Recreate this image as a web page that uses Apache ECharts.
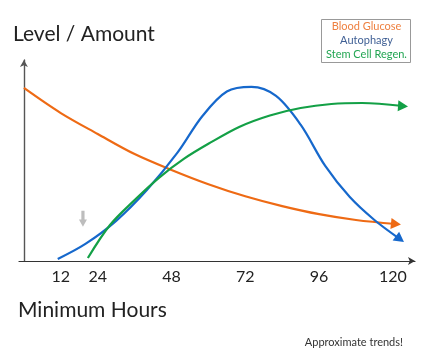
<!DOCTYPE html>
<html>
<head>
<meta charset="utf-8">
<script src="https://cdn.jsdelivr.net/npm/echarts@6/dist/echarts.min.js"></script>
<style>
html, body { margin: 0; padding: 0; background: #fff; }
#chart { width: 428px; height: 354px; }
</style>
</head>
<body>
<div id="chart"></div>
<script>
// hours on x, relative level on y (0-100)
var tickHours = [12, 24, 48, 72, 96, 120];
var seriesNames = ['Blood Glucose', 'Autophagy', 'Stem Cell Regen.'];
var seriesColors = ['#ee6a14', '#1668cc', '#13a046'];
var legendColors = ['#ee8040', '#3f5f94', '#22a552'];

var glucoseHours = [0, 12, 24, 36, 48, 60, 72, 84, 96, 108, 121];
var glucoseLevel = [86.1, 73.6, 63.2, 53.2, 45.3, 38.2, 32.2, 27.3, 23.3, 20.4, 18.4];

var autophagyHours = [11, 20, 30, 40, 50, 58, 66, 74, 82, 90, 98, 106, 114, 122.3];
var autophagyLevel = [1, 8.5, 20, 35.3, 54, 72, 84.3, 86.6, 82.1, 67.8, 47.3, 31.8, 20.4, 10.9];

var stemHours = [20.8, 28, 36, 44, 52, 60, 70, 80, 90, 100, 110, 123.3];
var stemLevel = [1.5, 17.9, 30.3, 41.5, 50.8, 58.3, 66.7, 72.4, 76.1, 78.1, 78.6, 77.1];

var arrowRotate = [-96, -126, -94];

function buildData(hours, levels, rot) {
    var out = [];
    for (var i = 0; i < hours.length; i++) {
        if (i == hours.length - 1) {
            out.push({
                value: [hours[i], levels[i]],
                symbol: 'triangle',
                symbolSize: [11, 10],
                symbolRotate: rot
            });
        } else {
            out.push([hours[i], levels[i]]);
        }
    }
    return out;
}

var allHours = [glucoseHours, autophagyHours, stemHours];
var allLevels = [glucoseLevel, autophagyLevel, stemLevel];

var series = [];
for (var s = 0; s < 3; s++) {
    series.push({
        name: seriesNames[s],
        type: 'line',
        smooth: 0.33,
        symbol: 'none',
        showSymbol: true,
        silent: true,
        color: seriesColors[s],
        itemStyle: { color: seriesColors[s] },
        lineStyle: { width: 2.2, color: seriesColors[s] },
        data: buildData(allHours[s], allLevels[s], arrowRotate[s])
    });
}
// small grey down arrow near 24h
series[1].markPoint = {
    silent: true,
    symbol: 'path://M3,0 L7,0 L7,7 L10,7 L5,13 L0,7 L3,7 Z',
    symbolSize: [8, 16],
    itemStyle: { color: '#bdbdbd' },
    label: { show: false },
    data: [{ coord: [19.2, 21] }]
};

var myChart = echarts.init(document.getElementById('chart'));
var option = {
    animation: false,
    backgroundColor: '#fff',
    title: [
        { text: 'Level / Amount', left: 8, top: 19, textStyle: { fontFamily: 'Lato', fontWeight: 'normal', fontSize: 21, color: '#222' } },
        { text: 'Minimum Hours', left: 13, top: 295, textStyle: { fontFamily: 'Lato', fontWeight: 'normal', fontSize: 21, color: '#222' } },
        { text: 'Approximate trends!', right: 20, top: 332, textStyle: { fontFamily: 'Lato', fontWeight: 'normal', fontSize: 11, color: '#333' } }
    ],
    graphic: [
        {
            type: 'rect',
            right: 17,
            top: 19,
            shape: { width: 89, height: 43 },
            style: { fill: '#fff', stroke: '#999', lineWidth: 1 }
        },
        {
            type: 'group',
            right: 17,
            top: 19,
            children: seriesNames.map(function (n, i) {
                return {
                    type: 'text',
                    x: 44.5,
                    y: 7.5 + i * 14,
                    style: {
                        text: n,
                        fill: legendColors[i],
                        font: '11px Lato',
                        align: 'center',
                        verticalAlign: 'middle'
                    }
                };
            }).concat([{ type: 'rect', shape: { width: 89, height: 43 }, style: { fill: 'none', stroke: 'none' } }])
        }
    ],
    grid: { left: 19, right: 13, top: 60, bottom: 93, containLabel: false },
    xAxis: {
        type: 'value',
        min: -1.6,
        max: 127.2,
        splitLine: { show: false },
        axisTick: { show: false },
        axisLine: { show: true, lineStyle: { color: '#333', width: 1.2 }, symbol: ['none', 'arrow'], symbolSize: [6, 7] },
        axisLabel: {
            customValues: tickHours,
            margin: 8,
            fontFamily: 'Lato',
            fontSize: 16,
            color: '#222'
        }
    },
    yAxis: {
        type: 'value',
        min: 0,
        max: 100,
        splitLine: { show: false },
        axisTick: { show: false },
        axisLabel: { show: false },
        axisLine: { show: true, lineStyle: { color: '#555', width: 1.4 }, symbol: ['none', 'arrow'], symbolSize: [6, 7] }
    },
    series: series
};
myChart.setOption(option);
</script>
</body>
</html>
